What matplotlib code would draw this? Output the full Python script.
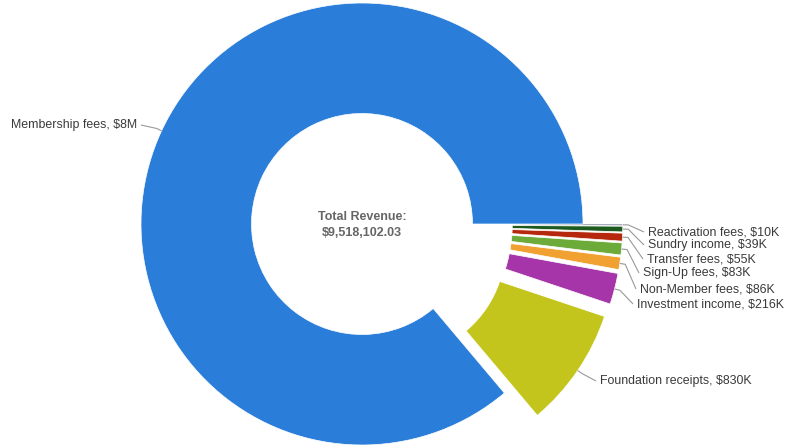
import numpy as np
import matplotlib
matplotlib.use("Agg")
import matplotlib.pyplot as plt

plt.rcParams['font.family'] = ['Liberation Sans', 'DejaVu Sans']

total = 9518102.03

# revenue sources, drawn clockwise from 3 o'clock
categories = ['Reactivation fees', 'Sundry income', 'Transfer fees', 'Sign-Up fees',
              'Non-Member fees', 'Investment income', 'Foundation receipts', 'Membership fees']
others = [10000, 39000, 55000, 83000, 86000, 216000, 830000]
values = others + [total - sum(others)]
colors = ['#3b4f66', '#1d5a1d', '#b6280e', '#6cab3a', '#f0a131', '#a535a8', '#c3c51d', '#2a7dd9']
explode = [0.18] * 7 + [0.0]

# label anchor positions in pixels (left edge / right edge, vertical centre)
label_px = [(648, 232), (648, 245), (647, 259), (643, 273), (640, 289), (637, 304), (600, 381), (137, 125)]

W, H = 788, 448
cx, cy, R = 362, 224, 221


def to_data(p):
    return (p[0] - cx) / R, (cy - p[1]) / R


def money(v):
    if v >= 1e6:
        return f'${v / 1e6:.0f}M'
    return f'${v / 1e3:.0f}K'


fig = plt.figure(figsize=(W / 100, H / 100), dpi=100)
ax = fig.add_axes([0, 0, 1, 1])
wedges, _ = ax.pie(values, explode=explode, colors=colors, startangle=0, counterclock=False,
                   radius=1.0, wedgeprops=dict(width=0.5, edgecolor='white', linewidth=0.5))
ax.set_xlim(-cx / R, (W - cx) / R)
ax.set_ylim(-(H - cy) / R, cy / R)
ax.set_aspect('equal')
ax.axis('off')

for w, name, v, lp in zip(wedges, categories, values, label_px):
    mid = np.deg2rad((w.theta1 + w.theta2) / 2)
    ux, uy = np.cos(mid), np.sin(mid)
    x0 = w.center[0] + w.r * ux
    y0 = w.center[1] + w.r * uy
    x1 = x0 + 0.025 * ux
    y1 = y0 + 0.025 * uy
    tx, ty = to_data(lp)
    right = lp[0] > cx
    gap = 4 / R
    ex = tx - gap if right else tx + gap
    ax.plot([x0, x1, ex], [y0, y1, ty], color='#999999', lw=0.8, solid_capstyle='butt')
    ax.text(tx, ty, f'{name}, {money(v)}', fontsize=8.9, color='#3a3a3a',
            ha='left' if right else 'right', va='center')

ax.text(0.0, 0.03, 'Total Revenue:', ha='center', va='center', fontsize=9,
        fontweight='bold', color='#666666')
ax.text(0.0, -0.04, f'${total:,.2f}', ha='center', va='center', fontsize=9,
        fontweight='bold', color='#666666')

fig.savefig('out.png', dpi=100, facecolor='white')
